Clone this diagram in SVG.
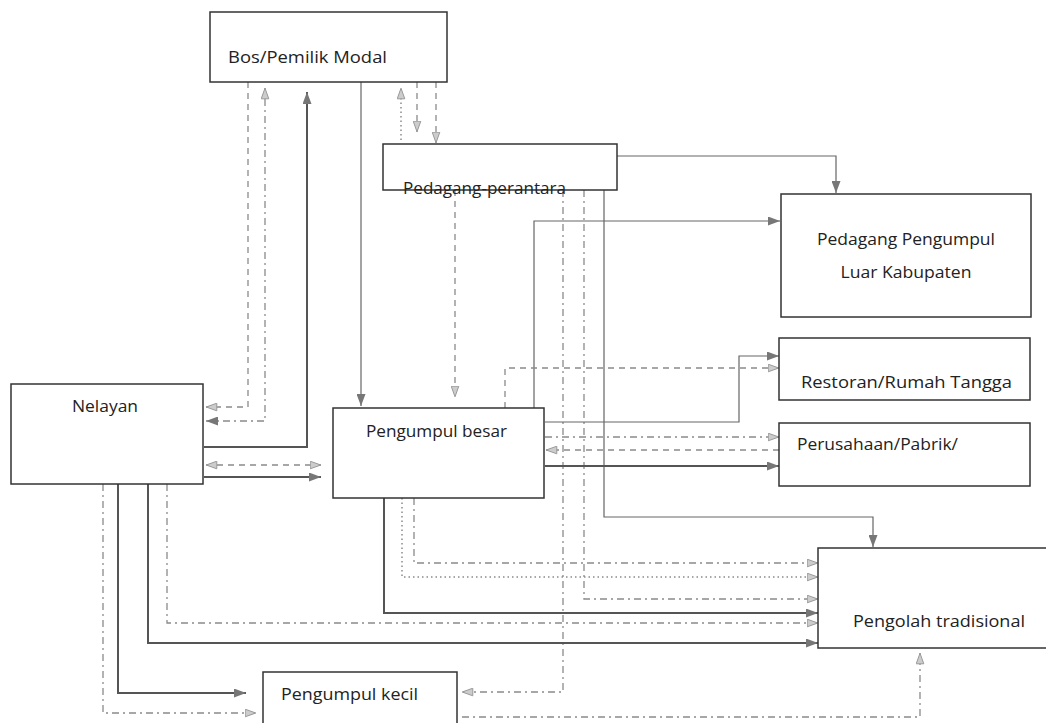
<svg xmlns="http://www.w3.org/2000/svg" width="1046" height="723" viewBox="0 0 1046 723">
<style>
.box{fill:#fff;stroke:#333;stroke-width:1.5}
.t{font-family:"Open Sans","Liberation Sans",sans-serif;font-size:16px;fill:#222}
.c{fill:none}
.s{stroke:#555;stroke-width:2}
.st{stroke:#666;stroke-width:1.2}
.d{stroke:#8a8a8a;stroke-width:1.3;stroke-dasharray:6 5}
.dd{stroke:#8a8a8a;stroke-width:1.3;stroke-dasharray:7 4 2 4}
.p{stroke:#8a8a8a;stroke-width:1.5;stroke-dasharray:1.5 3}
</style>
<defs>
<marker id="a" viewBox="0 0 12 9" refX="12" refY="4.5" markerWidth="12" markerHeight="9" markerUnits="userSpaceOnUse" orient="auto-start-reverse"><path d="M0,0 L12,4.5 L0,9 z" fill="#777"/></marker>
<marker id="h" viewBox="0 0 12 9" refX="11.5" refY="4.5" markerWidth="12" markerHeight="9" markerUnits="userSpaceOnUse" orient="auto-start-reverse"><path d="M0.7,0.7 L11.3,4.5 L0.7,8.3 z" fill="#ccc" stroke="#999" stroke-width="1"/></marker>
</defs>
<g id="connectors" class="c">
<path class="d" d="M248,82 V407 H206" marker-end="url(#h)"/>
<path class="dd" d="M206,421 H265 V88" marker-start="url(#a)" marker-end="url(#h)"/>
<path class="s" d="M204,447 H307 V92" marker-end="url(#a)"/>
<path class="st" d="M361,82 V406" marker-end="url(#a)"/>
<path class="p" d="M401,140 V88" marker-end="url(#h)"/>
<path class="d" d="M417,82 V132" marker-end="url(#h)"/>
<path class="d" d="M436,82 V143" marker-end="url(#h)"/>
<path class="st" d="M617,156 H836 V193" marker-end="url(#a)"/>
<path class="st" d="M534,408 V221 H780" marker-end="url(#a)"/>
<path class="d" d="M455,190 V397" marker-end="url(#h)"/>
<path class="dd" d="M563,190 V692 H462" marker-end="url(#h)"/>
<path class="dd" d="M584,190 V599 H818" marker-end="url(#h)"/>
<path class="st" d="M604,190 V517 H873 V547" marker-end="url(#a)"/>
<path class="d" d="M505,408 V368 H779" marker-end="url(#h)"/>
<path class="st" d="M545,422 H739 V356 H779" marker-end="url(#a)"/>
<path class="dd" d="M545,437 H779" marker-end="url(#h)"/>
<path class="d" d="M779,450 H546" marker-end="url(#h)"/>
<path class="s" d="M545,466 H779" marker-end="url(#a)"/>
<path class="d" d="M206,465 H321" marker-start="url(#h)" marker-end="url(#h)"/>
<path class="s" d="M204,477 H321" marker-end="url(#a)"/>
<path class="dd" d="M103,484 V713 H256" marker-end="url(#h)"/>
<path class="s" d="M118,484 V693 H246" marker-end="url(#a)"/>
<path class="s" d="M148,484 V643 H818" marker-end="url(#a)"/>
<path class="dd" d="M167,484 V623 H818" marker-end="url(#h)"/>
<path class="s" d="M384,498 V613 H818" marker-end="url(#a)"/>
<path class="p" d="M402,498 V577 H818" marker-end="url(#h)"/>
<path class="dd" d="M414,498 V563 H818" marker-end="url(#h)"/>
<path class="dd" d="M462,717 H920 V653" marker-end="url(#h)"/>
</g>
<g id="bos"><rect class="box" x="210" y="12" width="237" height="70"/><text class="t" x="228" y="63" textLength="159" lengthAdjust="spacingAndGlyphs">Bos/Pemilik Modal</text></g>
<g id="perantara"><rect class="box" x="383" y="144" width="234" height="46"/><text class="t" x="403" y="194" font-size="15" textLength="163" lengthAdjust="spacingAndGlyphs">Pedagang-perantara</text></g>
<g id="luar"><rect class="box" x="781" y="194" width="250" height="123"/><text class="t" x="906" y="245" text-anchor="middle" textLength="178" lengthAdjust="spacingAndGlyphs">Pedagang Pengumpul</text><text class="t" x="906" y="278" text-anchor="middle" textLength="131" lengthAdjust="spacingAndGlyphs">Luar Kabupaten</text></g>
<g id="restoran"><rect class="box" x="779" y="338" width="251" height="62"/><text class="t" x="801" y="388" textLength="211" lengthAdjust="spacingAndGlyphs">Restoran/Rumah Tangga</text></g>
<g id="perusahaan"><rect class="box" x="779" y="423" width="251" height="63"/><text class="t" x="797" y="450" textLength="161" lengthAdjust="spacingAndGlyphs">Perusahaan/Pabrik/</text></g>
<g id="nelayan"><rect class="box" x="11" y="384" width="192" height="100"/><text class="t" x="72" y="412" textLength="66" lengthAdjust="spacingAndGlyphs">Nelayan</text></g>
<g id="besar"><rect class="box" x="333" y="408" width="211" height="90"/><text class="t" x="366" y="437" textLength="141" lengthAdjust="spacingAndGlyphs">Pengumpul besar</text></g>
<g id="pengolah"><rect class="box" x="818" y="548" width="240" height="100"/><text class="t" x="853" y="627" textLength="172" lengthAdjust="spacingAndGlyphs">Pengolah tradisional</text></g>
<g id="kecil"><rect class="box" x="263" y="672" width="194" height="70"/><text class="t" x="281" y="700" textLength="137" lengthAdjust="spacingAndGlyphs">Pengumpul kecil</text></g>
</svg>
